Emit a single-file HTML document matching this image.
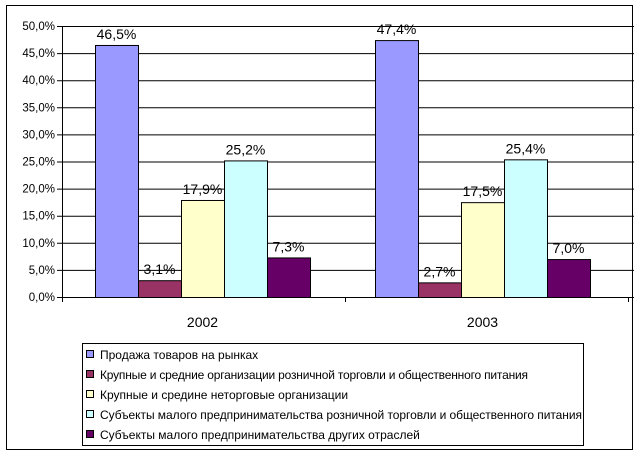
<!DOCTYPE html>
<html><head><meta charset="utf-8"><style>
body{margin:0;background:#fff;}
svg{display:block;font-family:"Liberation Sans",Arial,sans-serif;}
</style></head><body>
<svg width="639" height="456" id="c">
<rect x="6.5" y="5.5" width="626" height="444" fill="#fff" stroke="#000"/>
</svg>
<script>
const categories=["2002","2003"];
const seriesNames=["Продажа товаров на рынках","Крупные и средние организации розничной торговли и общественного питания","Крупные и средине неторговые организации","Субъекты малого предпринимательства розничной торговли и общественного питания"," Субъекты малого предпринимательства других отраслей"];
const s1=[46.5,47.4];
const s2=[3.1,2.7];
const s3=[17.9,17.5];
const s4=[25.2,25.4];
const s5=[7.3,7.0];
const yTicks=[0,5,10,15,20,25,30,35,40,45,50];
const series=[s1,s2,s3,s4,s5];
const colors=["#9999ff","#993366","#ffffcc","#ccffff","#660066"];
const svg=document.getElementById('c');const NS="http://www.w3.org/2000/svg";
function mk(t,a,p){const e=document.createElementNS(NS,t);for(const k in a)e.setAttribute(k,a[k]);(p||svg).appendChild(e);return e;}
const x0=62,x1=634,yb=297,yt=26,ymax=50;
const y=v=>yb-(v/ymax)*(yb-yt);
const cw=283,bw=43,off=33,step=280;
yTicks.forEach(t=>{
 const g=mk('line',{x1:x0-5,x2:x1,y1:y(t)+0.5,y2:y(t)+0.5,stroke:'#000','stroke-width':1});
 
 
 const tx=mk('text',{x:x0-7,y:y(t)+4,'text-anchor':'end','font-size':11.5});
 tx.textContent=t.toFixed(1).replace('.',',')+'%';
 
 
});
const ax=mk('line',{x1:x0+0.5,x2:x0+0.5,y1:yt,y2:yb,stroke:'#000'});


for(let i=0;i<=categories.length;i++){
 const l=mk('line',{x1:x0+i*cw+0.5,x2:x0+i*cw+0.5,y1:yb,y2:yb+5,stroke:'#000'});
 
 
}
categories.forEach((c,i)=>{
 series.forEach((s,j)=>{
  const bx=x0+i*step+off+j*bw,v=s[i];
  const r=mk('rect',{x:bx+0.5,y:y(v)+0.5,width:bw,height:yb-y(v),fill:colors[j],stroke:'#000'});
  
  
  const t=mk('text',{x:bx+bw/2,y:y(v)-6,'text-anchor':'middle','font-size':14});
  t.textContent=v.toFixed(1).replace('.',',')+'%';
  
  
 });
 const t=mk('text',{x:x0+i*step+off+bw*2.5,y:327,'text-anchor':'middle','font-size':14});
 t.textContent=c;
 
 
});
const lg=mk('g',{});


const lb=mk('rect',{x:82.5,y:343.5,width:501,height:102,fill:'#fff',stroke:'#000'},lg);


seriesNames.forEach((n,j)=>{
 const cy=355+j*20;
 const sw=mk('rect',{x:86.5,y:cy-4.5,width:7,height:7,fill:colors[j],stroke:'#000'},lg);
 
 
 const t=mk('text',{x:100,y:cy+4,'font-size':12,textLength:j==1?428:(j==3?482:null)},lg);
 if(t.getAttribute('textLength')==='null')t.removeAttribute('textLength');
 t.textContent=n;
 
 
});
</script>
</body></html>
